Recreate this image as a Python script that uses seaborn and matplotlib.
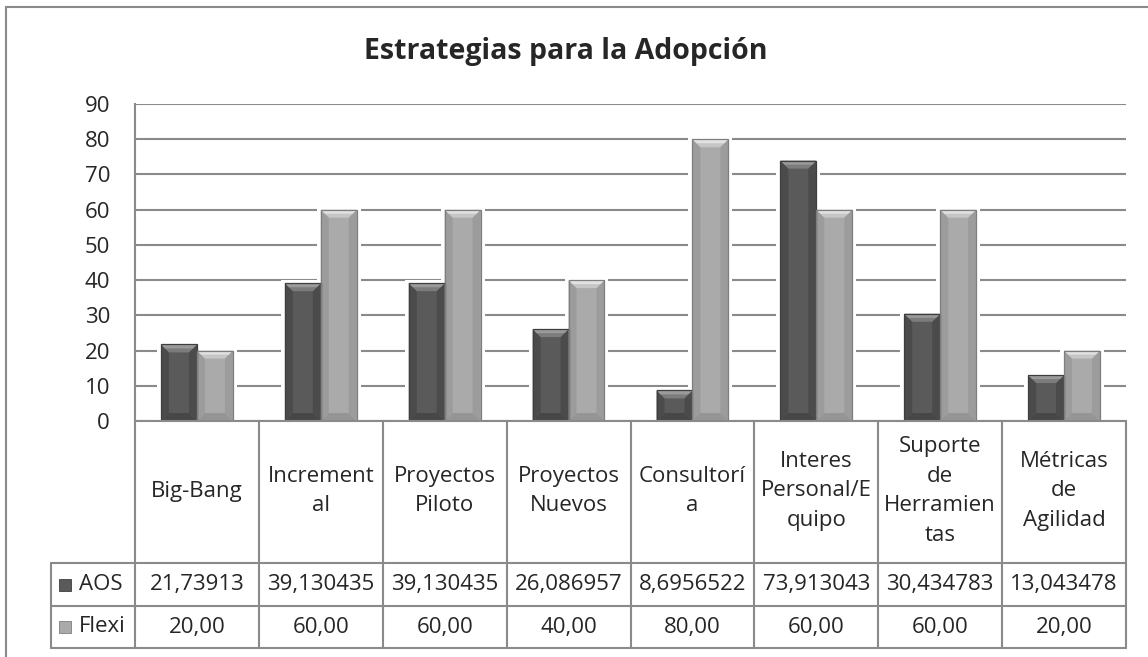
import matplotlib.pyplot as plt
import pandas as pd
import seaborn as sns
from matplotlib.lines import Line2D
from matplotlib.patches import Polygon, Rectangle

categories = [
    "Big-Bang",
    "Incremental",
    "Proyectos Piloto",
    "Proyectos Nuevos",
    "Consultoría",
    "Interes Personal/Equipo",
    "Suporte de Herramientas",
    "Métricas de Agilidad",
]
# header text as Excel wrapped it in the data table
header_labels = [
    "Big-Bang",
    "Increment\nal",
    "Proyectos\nPiloto",
    "Proyectos\nNuevos",
    "Consultorí\na",
    "Interes\nPersonal/E\nquipo",
    "Suporte\nde\nHerramien\ntas",
    "Métricas\nde\nAgilidad",
]
aos = [21.73913, 39.130435, 39.130435, 26.086957, 8.6956522, 73.913043, 30.434783, 13.043478]
flexi = [20, 60, 60, 40, 80, 60, 60, 20]
aos_text = ["21,73913", "39,130435", "39,130435", "26,086957",
            "8,6956522", "73,913043", "30,434783", "13,043478"]
flexi_text = ["20,00", "60,00", "60,00", "40,00", "80,00", "60,00", "60,00", "20,00"]
series = ["AOS", "Flexi"]
title = "Estrategias para la Adopción"

W, H = 1148, 657
GRID = "#8a8a8a"
COLORS = ["#5a5a5a", "#aaaaaa"]
# bevel shades per series: edge line, top cap (outer, inner), sides, bottom
BEVEL = [
    ("#3e3e3e", "#9a9a9a", "#7c7c7c", "#4b4b4b", "#474747"),
    ("#7e7e7e", "#e2e2e2", "#c6c6c6", "#9c9c9c", "#959595"),
]
FS = 16


def box(left, top, right, bottom):
    return [left / W, 1 - bottom / H, (right - left) / W, (bottom - top) / H]


def add_bevel(ax, patch, shades):
    x0, w, h = patch.get_x(), patch.get_width(), patch.get_height()
    px_x = 1 / 123.9
    px_y = 90 / 317
    bx, by = 8 * px_x, 8 * px_y
    edge, top_out, top_in, side, bottom = shades
    # white halo so the gridlines stop short of the bar like in Excel
    ax.add_patch(Rectangle((x0 - 4 * px_x, 0), w + 8 * px_x, h + 1.0,
                           facecolor="white", edgecolor="none", zorder=0.8))
    hx, hy = bx / 2, by / 2
    polys = [
        ([(x0, 0), (x0 + w, 0), (x0 + w - bx, by), (x0 + bx, by)], bottom),
        ([(x0, 0), (x0 + bx, by), (x0 + bx, h - by), (x0, h)], side),
        ([(x0 + w, 0), (x0 + w - bx, by), (x0 + w - bx, h - by), (x0 + w, h)], side),
        ([(x0, h), (x0 + w, h), (x0 + w - bx, h - by), (x0 + bx, h - by)], top_in),
        ([(x0, h), (x0 + w, h), (x0 + w - hx, h - hy), (x0 + hx, h - hy)], top_out),
    ]
    for pts, c in polys:
        ax.add_patch(Polygon(pts, closed=True, facecolor=c, edgecolor="none", zorder=2.1))
    ax.add_patch(Rectangle((x0, 0), w, h, facecolor="none", edgecolor=edge,
                           lw=0.9, zorder=2.2))


def draw_bars(fig):
    df = pd.DataFrame({
        "categoria": categories * 2,
        "valor": aos + flexi,
        "serie": [series[0]] * len(aos) + [series[1]] * len(flexi),
    })
    ax = fig.add_axes(box(135, 104, 1126, 421))
    sns.barplot(data=df, x="categoria", y="valor", hue="serie", palette=COLORS,
                width=0.58, saturation=1, linewidth=0, legend=False, ax=ax)
    n = len(categories)
    for k, p in enumerate(list(ax.patches)[:2 * n]):
        p.set_zorder(2)
        add_bevel(ax, p, BEVEL[k // n])
    ax.set_xlim(-0.5, n - 0.5)
    ax.set_ylim(0, 90)
    ax.set_yticks(range(0, 91, 10))
    ax.set_xticks([])
    ax.set_xlabel("")
    ax.set_ylabel("")
    ax.yaxis.grid(True, color=GRID, lw=1.5)
    ax.set_axisbelow(True)
    for s in ["top", "right", "bottom"]:
        ax.spines[s].set_visible(False)
    ax.spines["left"].set_color(GRID)
    ax.spines["left"].set_linewidth(1.5)
    ax.spines["left"].set_zorder(3)
    ax.tick_params(axis="y", length=0, labelsize=FS, pad=18)
    return ax


def draw_table(fig):
    # y in pixels inside the table block, x in category units
    tax = fig.add_axes(box(51, 421, 1126, 648))
    n = len(categories)
    col_w = (1126 - 135) / n
    x0 = -0.5 - (135 - 51) / col_w
    tax.set_xlim(x0, n - 0.5)
    tax.set_ylim(227, 0)
    tax.axis("off")
    kw = dict(color=GRID, lw=1.5, clip_on=False)
    rows = [0, 142, 184.5, 227]
    tax.plot([-0.5, n - 0.5], [rows[0], rows[0]], **kw)
    for y in rows[1:]:
        tax.plot([x0, n - 0.5], [y, y], **kw)
    for k in range(n + 1):
        tax.plot([k - 0.5, k - 0.5], [0, 227], **kw)
    tax.plot([x0, x0], [rows[1], rows[3]], **kw)

    for i in range(n):
        tax.text(i, 70, header_labels[i], ha="center", va="center",
                 fontsize=FS, linespacing=1.56)
        tax.text(i, 163.5, aos_text[i], ha="center", va="center", fontsize=FS)
        tax.text(i, 206, flexi_text[i], ha="center", va="center", fontsize=FS)

    for j, (name, yc) in enumerate(zip(series, [163.5, 206])):
        tax.plot([x0 + 14 / col_w], [yc], marker="s", ms=8.5, color=COLORS[j],
                 mec=BEVEL[j][0], mew=0.6, clip_on=False)
        tax.text(x0 + 28 / col_w, yc, name, ha="left", va="center", fontsize=FS)
    return tax


def main():
    sns.set_style("white")
    plt.rcParams["font.family"] = ["Open Sans", "DejaVu Sans"]
    fig = plt.figure(figsize=(W / 100, H / 100), dpi=100)

    draw_bars(fig)
    draw_table(fig)

    fig.text(566 / W, 1 - 52 / H, title, ha="center", va="center",
             fontsize=20.5, fontweight="bold")
    # chart frame, only top and left edges are visible in the crop
    fig.add_artist(Line2D([6 / W, 6 / W], [0, 1 - 7 / H], color=GRID, lw=1.5))
    fig.add_artist(Line2D([6 / W, 1], [1 - 7 / H, 1 - 7 / H], color=GRID, lw=1.5))

    fig.savefig("out.png", dpi=100)


if __name__ == "__main__":
    main()
